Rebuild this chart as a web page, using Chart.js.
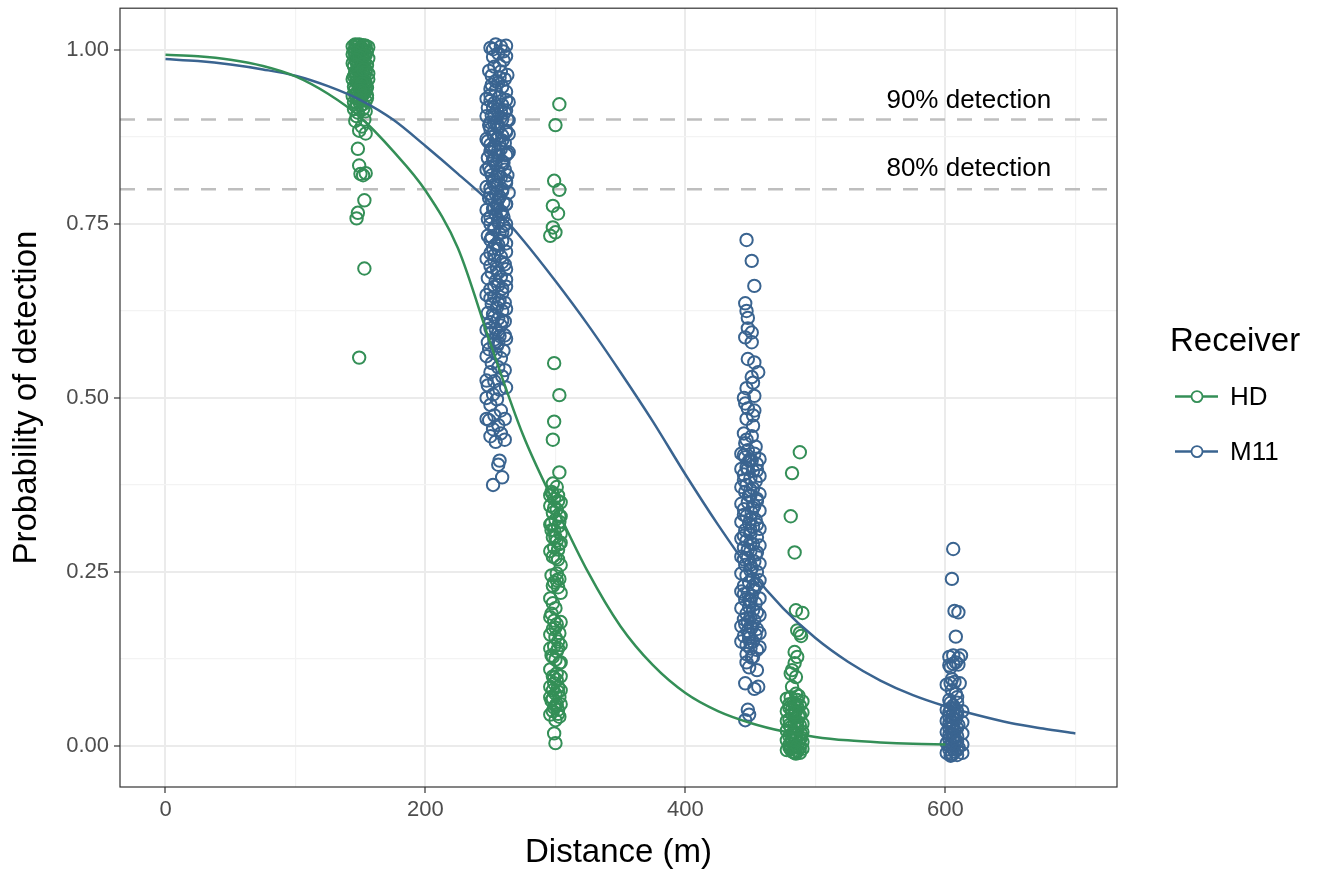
<!DOCTYPE html>
<html>
<head>
<meta charset="utf-8">
<title>Probability of detection</title>
<script src="https://cdn.jsdelivr.net/npm/chart.js@4.4.1/dist/chart.umd.min.js"></script>
<style>
  html, body { margin: 0; padding: 0; background: #fff; }
  #wrap { position: relative; width: 1317px; height: 871px; }
</style>
</head>
<body>
<div id="wrap"><canvas id="chart"></canvas></div>
<script>
'use strict';

/* ── Datos ── */

const receivers = ['HD', 'M11'];
const receiverColors = ['#348f57', '#3a6490'];

const xTicks = [0, 100, 200, 300, 400, 500, 600, 700];
const yTicks = [0, 0.125, 0.25, 0.375, 0.5, 0.625, 0.75, 0.875, 1];

const refLines = [0.9, 0.8];
const refLabels = ['90% detection', '80% detection'];
const refLabelX = 618;
const refLabelY = [0.927, 0.829];

// curvas ajustadas
const hdCurveDist = [0, 25, 50, 75, 100, 125, 150, 175, 200, 225, 250, 275, 300, 325, 350, 375, 400, 425, 450, 475, 500, 525, 550, 575, 600];
const hdCurveProb = [0.993, 0.991, 0.986, 0.977, 0.962, 0.937, 0.903, 0.855, 0.798, 0.715, 0.578, 0.447, 0.345, 0.250, 0.172, 0.116, 0.076, 0.050, 0.033, 0.021, 0.013, 0.008, 0.005, 0.003, 0.002];

const m11CurveDist = [0, 25, 50, 75, 100, 125, 150, 175, 200, 225, 250, 275, 300, 325, 350, 375, 400, 425, 450, 475, 500, 525, 550, 575, 600, 625, 650, 675, 700];
const m11CurveProb = [0.987, 0.984, 0.979, 0.972, 0.963, 0.948, 0.928, 0.900, 0.862, 0.822, 0.780, 0.727, 0.668, 0.605, 0.537, 0.466, 0.390, 0.318, 0.252, 0.198, 0.155, 0.121, 0.094, 0.073, 0.057, 0.044, 0.033, 0.025, 0.018];

// observaciones HD [distancia, prob]
const hd150 = [[146,1.008],[149,1.008],[152,1.007],[154,1.006],[147,1.004],[151,1.003],[153,1.0],[145,0.999],[150,0.997],[148,0.995],[154,0.993],[146,0.991],[152,0.989],[149,0.986],[153,0.984],[147,0.982],[151,0.979],[145,0.977],[150,0.975],[154,0.972],[148,0.97],[152,0.967],[146,0.965],[153,0.962],[149,0.96],[151,0.957],[147,0.955],[154,0.952],[150,0.95],[145,0.947],[152,0.944],[148,0.941],[153,0.938],[146,0.936],[151,0.933],[149,0.93],[154,0.927],[147,0.924],[150,0.92],[152,0.915],[148,0.91],[153,0.9],[146,0.898],[151,0.89],[149,0.884],[154,0.88],[148,0.858],[149,0.834],[150,0.822],[152,0.82],[154,0.823],[153,0.784],[148,0.766],[147,0.758],[153,0.686],[149,0.558],
  [144,1.005],[156,1.004],[148,1.001],[155,0.998],[144,0.994],[151,0.992],[156,0.988],[147,0.985],[144,0.981],[155,0.978],[149,0.974],[146,0.969],[156,0.966],[150,0.963],[144,0.958],[153,0.954],[148,0.951],[155,0.946],[146,0.943],[151,0.939],[144,0.934],[155,0.931],[149,0.926],[152,0.922],[147,0.918],[155,0.935],[145,0.925],[154,0.945],[156,0.958],[145,0.962],
  [147,1.007],[153,1.005],[150,1.002],[146,0.996],[153,0.992],[149,0.99],[146,0.986],[152,0.98],[148,0.977],[154,0.968],[147,0.962],[151,0.952],[149,0.945],[153,0.94],[147,0.932],[150,0.928],[145,0.915],[154,0.912],[147,0.905],[150,0.942],[152,0.972]];

const hd300 = [[303,0.922],[300,0.892],[299,0.812],[303,0.799],[298,0.776],[302,0.765],[298,0.745],[296,0.733],[300,0.738],[299,0.55],[303,0.504],[299,0.466],[298,0.44],[303,0.393],[298,0.377],[301,0.372],[297,0.365],[302,0.36],[299,0.355],[304,0.35],[296,0.345],[301,0.34],[298,0.335],[303,0.33],[300,0.325],[297,0.32],[302,0.315],[299,0.31],[304,0.305],[298,0.30],[301,0.295],[303,0.29],[299,0.285],[300,0.27],[302,0.268],[301,0.248],[303,0.24],[299,0.235],[302,0.228],[296,0.212],[298,0.205],[300,0.198],[297,0.19],[299,0.18],[301,0.175],[298,0.168],[303,0.162],[300,0.156],[302,0.15],[299,0.143],[301,0.136],[297,0.13],[300,0.124],[303,0.119],[298,0.1],[301,0.095],[299,0.09],[302,0.085],[298,0.08],[300,0.075],[303,0.07],[297,0.065],[301,0.06],[299,0.055],[302,0.052],[300,0.037],[299,0.018],[300,0.004],
  [296,0.36],[304,0.33],[296,0.318],[304,0.292],[296,0.28],[304,0.26],[297,0.245],[304,0.22],[296,0.185],[304,0.178],[296,0.16],[304,0.145],[296,0.14],[304,0.12],[296,0.11],[304,0.1],[296,0.085],[304,0.08],[296,0.07],[304,0.06],[296,0.045],[303,0.042],
  [298,0.362],[302,0.352],[299,0.342],[303,0.322],[297,0.31],[300,0.3],[302,0.282],[298,0.272],[301,0.238],[298,0.23],[300,0.17],[302,0.14],[298,0.128],[301,0.104],[299,0.098],[302,0.078],[298,0.068],[300,0.058],[302,0.046],[298,0.05]];

const hd485 = [[488,0.422],[482,0.392],[481,0.33],[484,0.278],[485,0.195],[490,0.191],[486,0.166],[488,0.162],[489,0.158],[484,0.135],[486,0.128],[484,0.119],[482,0.109],[485,0.099],[482,0.085],[485,0.075],[481,0.07],[486,0.066],[483,0.062],[488,0.058],[480,0.055],[485,0.05],[482,0.046],[487,0.042],[480,0.038],[484,0.034],[488,0.03],[481,0.027],[486,0.024],[483,0.02],[489,0.017],[480,0.014],[485,0.011],[482,0.008],[487,0.005],[480,0.002],[484,0.0],[488,-0.003],[481,-0.005],[486,-0.007],[483,-0.009],[485,-0.011],[489,0.012],[486,0.035],
  [478,0.068],[490,0.064],[478,0.05],[490,0.048],[478,0.036],[490,0.032],[478,0.022],[490,0.02],[478,0.008],[490,0.006],[478,-0.006],[490,-0.004],[484,0.06],[484,0.04],[484,0.02],[484,-0.01],[487,0.072],[481,0.104],
  [480,0.06],[486,0.056],[482,0.052],[488,0.044],[480,0.03],[486,0.028],[482,0.016],[488,0.01],[480,-0.002],[486,0.0],[482,-0.008],[488,-0.01],[484,0.048],[484,0.008]];

// observaciones M11 [distancia, prob]
const m11_255 = [[254,1.008],[258,1.005],[252,1.001],[260,0.998],[256,0.995],[262,0.991],[253,0.976],[258,0.969],[251,0.963],[261,0.958],[256,0.953],[259,0.947],[254,0.942],
  [250,0.935],[257,0.932],[262,0.928],[253,0.924],[259,0.921],[248,0.917],[255,0.914],[261,0.91],[251,0.906],[258,0.903],[264,0.899],[253,0.895],[249,0.892],[256,0.888],[262,0.884],[252,0.88],[259,0.877],[255,0.873],[248,0.869],[261,0.866],[253,0.862],[258,0.858],[250,0.854],[263,0.851],[256,0.847],[252,0.843],[259,0.84],[254,0.836],[249,0.832],[261,0.828],[256,0.824],[251,0.82],[258,0.817],[253,0.813],[262,0.809],[255,0.805],[250,0.801],[259,0.797],[254,0.793],[257,0.789],[251,0.785],[260,0.781],[255,0.777],[252,0.772],[258,0.768],[254,0.764],[248,0.757],[256,0.752],[260,0.747],[253,0.742],[257,0.736],[251,0.731],[259,0.726],[254,0.72],[256,0.714],[250,0.708],[258,0.703],[253,0.698],[261,0.692],[255,0.686],[251,0.68],[258,0.674],[254,0.668],[256,0.662],[250,0.656],[259,0.651],[253,0.645],[257,0.64],[251,0.635],[255,0.63],[259,0.625],[252,0.62],[256,0.614],[250,0.609],[258,0.604],[254,0.599],[251,0.594],[257,0.589],[253,0.584],[256,0.579],
  [249,0.57],[254,0.564],[258,0.557],[251,0.55],[256,0.544],[250,0.537],[259,0.531],[253,0.524],[248,0.518],[257,0.512],[252,0.505],[255,0.498],[250,0.49],[258,0.482],[253,0.475],[249,0.468],[256,0.461],[252,0.455],[258,0.449],[250,0.445],[254,0.437],[257,0.41],[256,0.404],[259,0.386],[252,0.375],
  [250,1.003],[262,1.006],[249,0.97],[263,0.964],[251,0.95],[257,0.96],[247,0.93],[264,0.925],[252,0.918],[258,0.912],[247,0.905],[263,0.9],[255,0.893],[250,0.886],[264,0.879],[247,0.872],[257,0.865],[251,0.858],[264,0.853],[248,0.845],[260,0.838],[247,0.828],[263,0.82],[252,0.811],[247,0.803],[264,0.795],[249,0.787],[262,0.778],[247,0.77],[260,0.76],[250,0.75],[262,0.74],[248,0.733],[262,0.722],[252,0.715],[247,0.7],[262,0.685],[248,0.672],[262,0.66],[247,0.648],[261,0.637],[248,0.622],[261,0.61],[247,0.598],[261,0.59],[248,0.58],[255,0.575],[260,0.568],[247,0.56],[261,0.54],[247,0.525],[262,0.515],[247,0.5],[261,0.47],[247,0.47],[261,0.44],
  [250,0.927],[256,0.919],[262,0.913],[253,0.907],[259,0.9],[250,0.896],[256,0.89],[262,0.882],[253,0.876],[259,0.87],[250,0.864],[256,0.856],[262,0.849],[253,0.842],[259,0.835],[250,0.826],[256,0.818],[262,0.812],[253,0.806],[259,0.8],[250,0.794],[256,0.786],[262,0.779],[253,0.773],[259,0.766],[250,0.76],[256,0.755],[262,0.75],[253,0.745],[259,0.738],[250,0.727],[256,0.72],[262,0.71],[253,0.705],[259,0.695],[250,0.69],[256,0.68],[262,0.67],[253,0.66],[259,0.657],[250,0.643],[256,0.636],[262,0.628],[253,0.617],[259,0.611],[250,0.6],[256,0.593],[262,0.585],[253,0.578],[254,0.955],[250,0.944],[262,0.94],[257,0.978],[252,0.99],[260,0.985]];

const m11_450 = [[447,0.727],[451,0.697],[453,0.661],[446,0.636],[447,0.625],[448,0.615],[451,0.594],[446,0.587],[451,0.58],[448,0.556],[453,0.551],[456,0.537],[452,0.522],[447,0.514],[445,0.5],[453,0.503],[448,0.485],[453,0.482],[447,0.47],[452,0.46],[445,0.449],[451,0.445],[446,0.435],[454,0.43],
  [448,0.425],[453,0.42],[446,0.415],[451,0.41],[455,0.405],[447,0.4],[452,0.395],[445,0.39],[450,0.385],[454,0.38],[447,0.375],[452,0.37],[446,0.365],[450,0.36],[455,0.355],[448,0.35],[453,0.345],[445,0.34],[451,0.335],[447,0.33],[454,0.325],[449,0.32],[452,0.315],[446,0.31],[450,0.305],[455,0.3],[447,0.295],[452,0.29],[445,0.285],[450,0.28],[454,0.275],[448,0.27],[453,0.265],[446,0.26],[451,0.255],[455,0.25],[447,0.245],[452,0.24],[449,0.235],[445,0.23],[453,0.225],[448,0.22],[451,0.215],[446,0.21],[454,0.205],[449,0.2],[452,0.195],[447,0.19],[450,0.185],[453,0.18],[446,0.175],[451,0.17],[448,0.165],[454,0.16],[449,0.155],[452,0.15],[447,0.145],[450,0.14],
  [447,0.132],[451,0.127],[447,0.12],[455,0.109],[449,0.113],[446,0.09],[456,0.085],[453,0.082],[448,0.052],[446,0.037],[449,0.045],
  [443,0.42],[457,0.412],[443,0.398],[457,0.388],[443,0.372],[457,0.362],[443,0.348],[457,0.338],[443,0.322],[457,0.312],[443,0.298],[457,0.288],[443,0.272],[457,0.262],[443,0.248],[457,0.238],[443,0.222],[457,0.212],[443,0.198],[457,0.188],[443,0.172],[457,0.162],[443,0.15],[457,0.142],[449,0.41],[449,0.36],[450,0.31],[450,0.26],[449,0.21],[449,0.16],
  [445,0.418],[450,0.412],[455,0.396],[445,0.382],[450,0.368],[455,0.352],[445,0.332],[450,0.326],[455,0.318],[445,0.302],[450,0.292],[455,0.278],[445,0.268],[450,0.252],[455,0.232],[445,0.218],[450,0.208],[455,0.192],[445,0.182],[450,0.172],[455,0.168],[445,0.158],[450,0.148],[455,0.138],[448,0.398],[452,0.342],[448,0.282],[452,0.228],[448,0.178],[452,0.128],[447,0.44],[452,0.475],[446,0.492],[451,0.53],[448,0.6]];

const m11_607 = [[606,0.283],[605,0.24],[607,0.194],[610,0.192],[608,0.157],[603,0.128],[606,0.13],[610,0.126],[603,0.116],[606,0.118],[610,0.117],[604,0.09],[607,0.092],[611,0.09],[605,0.08],[608,0.075],[603,0.066],[609,0.07],[606,0.058],[604,0.054],[609,0.05],[606,0.046],[603,0.042],[608,0.038],[605,0.034],[610,0.03],[603,0.026],[607,0.022],[605,0.018],[609,0.014],[603,0.01],[607,0.006],[605,0.002],[610,-0.002],[603,-0.005],[607,-0.008],[605,-0.011],[609,-0.013],[604,-0.014],[608,0.044],[606,0.028],[608,0.008],
  [601,0.052],[613,0.05],[601,0.036],[613,0.034],[601,0.02],[613,0.018],[601,0.004],[613,0.002],[601,-0.01],[613,-0.01],[606,0.04],[606,0.012],[606,-0.004],[609,0.062],[604,0.062],[601,0.088],[612,0.13],[604,0.113],
  [603,0.048],[609,0.044],[603,0.032],[609,0.026],[603,0.016],[609,0.006],[603,0.0],[609,-0.006],[605,-0.013],[607,0.054],[605,0.026],[607,0.014],[605,0.096],[608,0.12]];

/* ── Helpers ── */

const FONT = '"Liberation Sans", Arial, Helvetica, sans-serif';
const toXY = pairs => pairs.map(([x, y]) => ({ x, y }));
const curve = (xs, ys) => xs.map((x, i) => ({ x, y: ys[i] }));
const isMajorX = v => v % 200 === 0;
const isMajorY = v => Math.abs(v * 4 - Math.round(v * 4)) < 1e-9;

/* ── Decoración: líneas de referencia, etiquetas, borde, leyenda ── */
const decor = {
  id: 'decor',
  beforeDatasetsDraw(chart) {
    const { ctx, chartArea: a, scales: { y } } = chart;
    ctx.save();
    ctx.strokeStyle = '#bebebe';
    ctx.lineWidth = 2.5;
    ctx.setLineDash([15, 12]);
    refLines.forEach(v => {
      const py = y.getPixelForValue(v);
      ctx.beginPath();
      ctx.moveTo(a.left, py);
      ctx.lineTo(a.right, py);
      ctx.stroke();
    });
    ctx.restore();
  },
  afterDraw(chart) {
    const { ctx, chartArea: a, scales: { x, y } } = chart;
    ctx.save();

    // textos de referencia
    ctx.fillStyle = '#000';
    ctx.font = '26px ' + FONT;
    ctx.textAlign = 'center';
    ctx.textBaseline = 'middle';
    refLabels.forEach((t, i) => ctx.fillText(t, x.getPixelForValue(refLabelX), y.getPixelForValue(refLabelY[i])));

    // borde del panel
    ctx.strokeStyle = '#333';
    ctx.lineWidth = 1.2;
    ctx.strokeRect(a.left, a.top, a.right - a.left, a.bottom - a.top);

    // leyenda
    const lx = a.right + 53;
    const mid = (a.top + a.bottom) / 2;
    ctx.textAlign = 'left';
    ctx.textBaseline = 'alphabetic';
    ctx.font = '33px ' + FONT;
    ctx.fillText('Receiver', lx, mid - 47);
    ctx.font = '26px ' + FONT;
    ctx.textBaseline = 'middle';
    receivers.forEach((name, i) => {
      const cy = mid - 1 + i * 55;
      ctx.strokeStyle = receiverColors[i];
      ctx.lineWidth = 2.5;
      ctx.beginPath();
      ctx.moveTo(lx + 5, cy);
      ctx.lineTo(lx + 48, cy);
      ctx.stroke();
      ctx.lineWidth = 1.8;
      ctx.fillStyle = '#fff';
      ctx.beginPath();
      ctx.arc(lx + 27, cy, 5.5, 0, Math.PI * 2);
      ctx.fill();
      ctx.stroke();
      ctx.fillStyle = '#000';
      ctx.fillText(name, lx + 60, cy + 1);
    });
    ctx.restore();
  }
};

/* ── Gráfico ── */
const pointStyle = color => ({
  type: 'scatter',
  borderColor: color,
  backgroundColor: 'rgba(0,0,0,0)',
  pointRadius: 6.2,
  pointBorderWidth: 2,
  pointHoverRadius: 6.2,
  order: 1
});
const lineStyle = color => ({
  type: 'line',
  borderColor: color,
  borderWidth: 2.5,
  pointRadius: 0,
  fill: false,
  cubicInterpolationMode: 'monotone',
  order: 0
});

new Chart(document.getElementById('chart'), {
  data: {
    datasets: [
      { label: 'HD', data: toXY([...hd150, ...hd300, ...hd485]), ...pointStyle(receiverColors[0]) },
      { label: 'M11', data: toXY([...m11_255, ...m11_450, ...m11_607]), ...pointStyle(receiverColors[1]) },
      { label: 'HD fit', data: curve(hdCurveDist, hdCurveProb), ...lineStyle(receiverColors[0]) },
      { label: 'M11 fit', data: curve(m11CurveDist, m11CurveProb), ...lineStyle(receiverColors[1]) }
    ]
  },
  options: {
    responsive: true,
    maintainAspectRatio: false,
    animation: false,
    layout: { padding: { top: 7, right: 200, left: 0, bottom: 0 } },
    plugins: { legend: { display: false }, tooltip: { enabled: false } },
    scales: {
      x: {
        type: 'linear',
        min: -35,
        max: 732,
        afterBuildTicks: s => { s.ticks = xTicks.map(v => ({ value: v })); },
        afterFit: s => { s.height = 84; s.paddingLeft = 0; s.paddingRight = 0; },
        border: { display: false },
        grid: {
          color: c => isMajorX(c.tick.value) ? '#ebebeb' : '#f3f3f3',
          lineWidth: c => isMajorX(c.tick.value) ? 2 : 1.2,
          tickColor: c => isMajorX(c.tick.value) ? '#333' : 'rgba(0,0,0,0)',
          tickWidth: 1.2,
          tickLength: 6
        },
        ticks: {
          autoSkip: false,
          maxRotation: 0,
          padding: 4,
          color: '#4d4d4d',
          font: { family: FONT, size: 22 },
          callback: v => isMajorX(v) ? String(v) : ''
        },
        title: {
          display: true,
          text: 'Distance (m)',
          color: '#000',
          font: { family: FONT, size: 33, lineHeight: 1.1 },
          padding: { top: 0, bottom: 0 }
        }
      },
      y: {
        type: 'linear',
        min: -0.059,
        max: 1.06,
        afterBuildTicks: s => { s.ticks = yTicks.map(v => ({ value: v })); },
        afterFit: s => { s.width = 120; s.paddingTop = 0; s.paddingBottom = 0; },
        border: { display: false },
        grid: {
          color: c => isMajorY(c.tick.value) ? '#ebebeb' : '#f3f3f3',
          lineWidth: c => isMajorY(c.tick.value) ? 2 : 1.2,
          tickColor: c => isMajorY(c.tick.value) ? '#333' : 'rgba(0,0,0,0)',
          tickWidth: 1.2,
          tickLength: 6
        },
        ticks: {
          autoSkip: false,
          padding: 5,
          color: '#4d4d4d',
          font: { family: FONT, size: 22 },
          callback: v => isMajorY(v) ? v.toFixed(2) : ''
        },
        title: {
          display: true,
          text: 'Probability of detection',
          color: '#000',
          font: { family: FONT, size: 33, lineHeight: 1.2 },
          padding: { top: 7, bottom: 0 }
        }
      }
    }
  },
  plugins: [decor]
});
</script>
</body>
</html>
